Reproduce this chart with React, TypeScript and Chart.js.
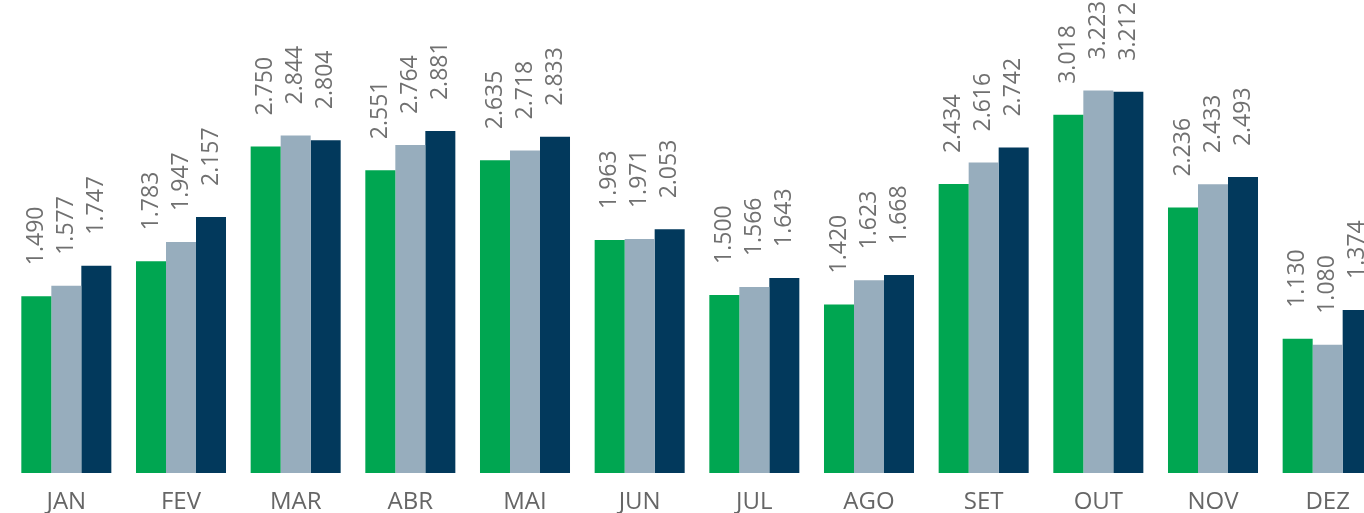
import React, { useEffect, useRef } from "react";
import { Chart, registerables } from "chart.js";

Chart.register(...registerables);

const categories = ["JAN", "FEV", "MAR", "ABR", "MAI", "JUN", "JUL", "AGO", "SET", "OUT", "NOV", "DEZ"];
const seriesA = [1490, 1783, 2750, 2551, 2635, 1963, 1500, 1420, 2434, 3018, 2236, 1130];
const seriesB = [1577, 1947, 2844, 2764, 2718, 1971, 1566, 1623, 2616, 3223, 2433, 1080];
const seriesC = [1747, 2157, 2804, 2881, 2833, 2053, 1643, 1668, 2742, 3212, 2493, 1374];
const seriesNames = ["Série 1", "Série 2", "Série 3"];
const colors = ["#00A651", "#97ADBD", "#02395C"];

function fmt(v: number): string {
  const s = Math.round(v).toString();
  return s.replace(/\B(?=(\d{3})+(?!\d))/g, ".");
}

const labelPlugin = {
  id: "rotatedLabels",
  afterDatasetsDraw(chart: any) {
    const ctx = chart.ctx;
    ctx.save();
    ctx.font = '23px "Open Sans"';
    ctx.fillStyle = "#707070";
    ctx.textAlign = "left";
    ctx.textBaseline = "middle";
    chart.data.datasets.forEach((ds: any, di: number) => {
      const meta = chart.getDatasetMeta(di);
      meta.data.forEach((el: any, i: number) => {
        const v = ds.data[i];
        ctx.save();
        ctx.translate(el.x, el.y - 31);
        ctx.rotate(-Math.PI / 2);
        ctx.fillText(fmt(v), 0, 0);
        ctx.restore();
      });
    });
    ctx.restore();
  },
};

export default function App() {
  const ref = useRef<HTMLCanvasElement | null>(null);
  useEffect(() => {
    if (!ref.current) return;
    const chart = new Chart(ref.current, {
      type: "bar",
      data: {
        labels: categories,
        datasets: [seriesA, seriesB, seriesC].map((d, i) => ({
          label: seriesNames[i],
          data: d,
          backgroundColor: colors[i],
          borderWidth: 0,
          categoryPercentage: 0.785,
          barPercentage: 1,
        })),
      },
      options: {
        animation: false,
        responsive: false,
        layout: { padding: { left: 9, right: 1, top: 0, bottom: 0 } },
        plugins: {
          legend: { display: false },
          tooltip: { enabled: false },
        },
        scales: {
          x: {
            grid: { display: false, drawTicks: false },
            border: { display: false },
            ticks: {
              color: "#666666",
              font: { family: "Open Sans", size: 24 },
              padding: 15,
              maxRotation: 0,
              minRotation: 0,
              autoSkip: false,
            },
            afterFit: (scale: any) => {
              scale.height = 40;
            },
          },
          y: {
            display: false,
            min: 0,
            max: 3985,
          },
        },
      },
      plugins: [labelPlugin],
    });
    return () => chart.destroy();
  }, []);
  return (
    <div style={{ position: "absolute", left: 0, top: 0, width: 1364, height: 513, overflow: "hidden", background: "#fff" }}>
      <canvas ref={ref} width={1386} height={513} style={{ display: "block", width: 1386, height: 513 }} />
    </div>
  );
}
